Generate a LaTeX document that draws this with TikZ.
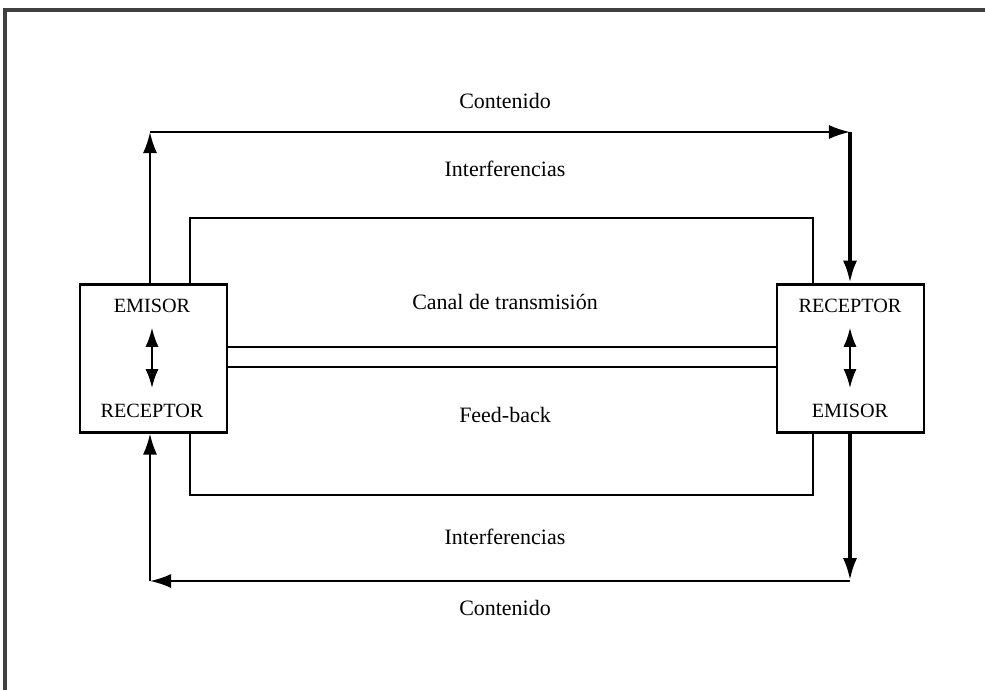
\documentclass[tikz,border=0pt]{standalone}
\usepackage{fontspec}
\setmainfont{Liberation Serif}
\usetikzlibrary{arrows.meta}
\usetikzlibrary{positioning}
\tikzset{box/.style = {draw, line width=1.2pt, minimum width=2.94cm,
                       minimum height=2.96cm, inner sep=0}}
\tikzset{lbl/.style = {font=\fontsize{12.5}{15}\selectfont, inner sep=0, anchor=base}}
\tikzset{inlbl/.style = {lbl, font=\fontsize{11.5}{14}\selectfont}}
\tikzset{wire/.style = {line width=1.2pt}}
\tikzset{flow/.style = {wire, -{Latex[length=12pt, width=8pt]}}}
\tikzset{heavy/.style = {line width=2.3pt, -{Latex[length=13pt, width=8pt]}}}
\tikzset{swap/.style = {line width=1.5pt, {Latex[length=11pt, width=7.5pt]}-{Latex[length=11pt, width=7.5pt]},
                        shorten <=8.5pt, shorten >=8.5pt}}

\begin{document}
\begin{tikzpicture}[x=0.02cm, y=-0.02cm]
      \useasboundingbox (0,0) rectangle (985,690);
      \draw [line width=2pt, black!75] (5,690) -- (5,10) -- (985,10);

      % the two ends
      \node [box] (left) at (153.5,358.5) {};
      \node [box] (right) at (850.5,358.5) {};

      \node [inlbl] (em1) at (152,312) {EMISOR};
      \node [inlbl] (re1) at (152,417) {RECEPTOR};
      \node [inlbl] (re2) at (850,312) {RECEPTOR};
      \node [inlbl] (em2) at (850,417) {EMISOR};
      \draw [swap] (em1) -- (re1);
      \draw [swap] (re2) -- (em2);

      \coordinate (tl) at (150,132);
      \coordinate (tr) at (850,132);
      \coordinate (bl) at (150,581);
      \coordinate (br) at (850,581);
      \coordinate (ul) at (190,218);
      \coordinate (ur) at (813,218);
      \coordinate (dl) at (190,495);
      \coordinate (dr) at (813,495);

      % top loop
      \draw [flow] (left.north -| tl) -- (tl);
      \draw [flow] (tl) -- (tr);
      \draw [heavy] (tr) -- (right.north -| tr);
      \draw [wire] (left.north -| ul) -- (ul) -- (ur) -- (right.north -| ur);

      % channel
      \draw [wire] ([yshift=0.23cm]left.east) -- ([yshift=0.23cm]right.west);
      \draw [wire] ([yshift=-0.17cm]left.east) -- ([yshift=-0.17cm]right.west);

      % bottom loop
      \draw [heavy] (right.south -| br) -- (br);
      \draw [flow] (br) -- (bl);
      \draw [flow] (bl) -- (left.south -| bl);
      \draw [wire] (left.south -| dl) -- (dl) -- (dr) -- (right.south -| dr);

      \node [lbl] (cont1) at (505,108) {Contenido};
      \node [lbl] (int1) at (505,176) {Interferencias};
      \node [lbl] (canal) at (505,309) {Canal de transmisión};
      \node [lbl] (feed) at (505,422) {Feed-back};
      \node [lbl] (int2) at (505,544) {Interferencias};
      \node [lbl] (cont2) at (505,615) {Contenido};
    \end{tikzpicture}
\end{document}
